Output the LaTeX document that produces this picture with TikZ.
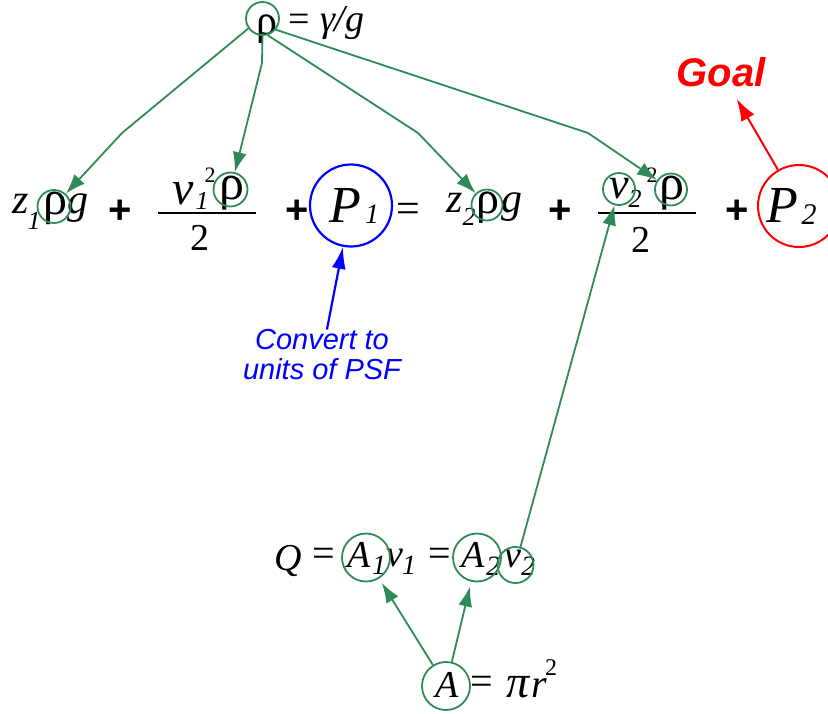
\documentclass[tikz,border=0pt]{standalone}
\usepackage{fontspec}
\setmainfont{Liberation Serif}
\newfontfamily\arf{Liberation Sans}
\usetikzlibrary{arrows.meta}
\definecolor{gr}{RGB}{46,139,87}
\newcommand\myfs[1]{\fontsize{#1}{#1}\selectfont}
\begin{document}
\begin{tikzpicture}[x=1pt,y=-1pt,
  tx/.style={inner sep=0pt,outer sep=0pt,anchor=base,font=\itshape\myfs{#1}},
  up/.style={inner sep=0pt,outer sep=0pt,anchor=base,font=\upshape\myfs{#1}},
  pl/.style={inner sep=0pt,outer sep=0pt,anchor=center,font=\arf\bfseries\myfs{40}},
  gc/.style={circle,draw=gr,line width=1.8pt,inner sep=0pt,minimum size=#1},
  bc/.style={circle,draw=blue,line width=2.2pt,inner sep=0pt,minimum size=82pt},
  rc/.style={circle,draw=red,line width=2pt,inner sep=0pt,minimum size=82pt},
  ga/.style={draw=gr,line width=1.8pt,-{Latex[length=20pt,width=14pt]}},
  ba/.style={draw=blue,line width=2.2pt,-{Latex[length=22pt,width=14pt]}},
  ra/.style={draw=red,line width=2pt,-{Latex[length=22pt,width=15pt]}},
  bar/.style={line width=2pt}]
\useasboundingbox (0,0) rectangle (828,713);
% top
\node[up=42] (rho0) at (267,34) {ρ};
\node[up=38] (eq0) at (299,31) {=};
\node[tx=38,anchor=base west] (gam) at (320,31) {γ/g};
% row 1
\node[tx=42] (z1) at (21,213) {z};
\node[tx=26] (z1s) at (34,229) {1};
\node[up=48] (r1) at (55,214) {ρ};
\node[tx=42] (g1) at (78,213) {g};
\node[pl] (p1) at (120,212) {+};
\node[tx=48] (v1) at (183,204) {v};
\node[tx=26] (v1s) at (202,209) {1};
\node[up=22] (v1p) at (210,182) {2};
\node[up=50] (r2) at (232,199) {ρ};
\draw[bar] (158,213) -- (256,213);
\node[up=38] (d1) at (200,250) {2};
\node[pl] (p2) at (297,212) {+};
\node[tx=52] (P1) at (345,222) {P};
\node[tx=28] (P1s) at (372,223) {1};
\node[up=42] (eq1) at (408,222) {=};
\node[tx=42] (z2) at (455,212) {z};
\node[tx=26] (z2s) at (469,225) {2};
\node[up=46] (r3) at (488,213) {ρ};
\node[tx=42] (g2) at (512,212) {g};
\node[pl] (p3) at (560,212) {+};
\node[tx=44] (v2) at (619,198) {v};
\node[tx=26] (v2s) at (635,207) {2};
\node[up=22] (v2p) at (652,182) {2};
\node[up=50] (r4) at (672,199) {ρ};
\draw[bar] (598,213) -- (696,213);
\node[up=38] (d2) at (641,252) {2};
\node[pl] (p4) at (737,212) {+};
\node[tx=52] (P2) at (782,222) {P};
\node[tx=30] (P2s) at (809,224) {2};
% bottom row
\node[tx=38] (Q) at (288,570) {Q};
\node[up=40] (eq2) at (324,566) {=};
\node[tx=38] (A1) at (359,567) {A};
\node[tx=28] (A1s) at (379,574) {1};
\node[tx=38] (v3) at (395,566) {v};
\node[tx=28] (v3s) at (409,574) {1};
\node[up=40] (eq3) at (440,566) {=};
\node[tx=38] (A2) at (473,567) {A};
\node[tx=28] (A2s) at (493,575) {2};
\node[tx=38] (v4) at (513,567) {v};
\node[tx=28] (v4s) at (528,575) {2};
% A = pi r^2
\node[tx=38] (A3) at (447,697) {A};
\node[up=40] (eq4) at (482,694) {=};
\node[tx=46] (pi) at (518,697) {π};
\node[tx=40] (rr) at (539,697) {r};
\node[up=24] (rsq) at (551,675) {2};
% circles
\node[gc=33pt] (cT) at (262.5,18.5) {};
\node[gc=33pt] (cA) at (54,206.5) {};
\node[gc=34pt] (cB) at (230.5,189.5) {};
\node[gc=31pt] (cC) at (487,205) {};
\node[gc=32pt] (cD) at (619,189) {};
\node[gc=32pt] (cE) at (671,189.5) {};
\node[bc] (cP1) at (351,205.5) {};
\node[rc] (cP2) at (799,206) {};
\node[gc=48pt] (cA1) at (366,557.5) {};
\node[gc=48pt] (cA2) at (477,557.5) {};
\node[gc=36pt] (cV) at (515.5,565) {};
\node[gc=48pt] (cA3) at (446,686) {};
% labels
\node[inner sep=0pt,text=red,font=\arf\bfseries\itshape\myfs{40}] (goal) at (721,72) {Goal};
\node[inner sep=0pt,text=blue,align=center,font=\arf\itshape\fontsize{29}{30}\selectfont] (conv) at (322,355) {Convert to\\units of PSF};
% bends
\coordinate (b1) at (122,133);
\coordinate (b2) at (262,63);
\coordinate (b3) at (418,133);
\coordinate (b4) at (588,133);
% connectors
\draw[ga] (cT.-145) -- (b1) -- (cA);
\draw[ga] (cT.-90) -- (b2) -- (cB);
\draw[ga] (cT.-73) -- (b3) -- (cC);
\draw[ga] (cT.-40) -- (b4) -- (cE);
\draw[ga] (cV) -- (cD);
\draw[ga,shorten >=5pt] (cA3) -- (cA1);
\draw[ga,shorten >=5pt] (cA3) -- (cA2);
\draw[ra,shorten >=14pt] (cP2) -- (goal);
\draw[ba] (conv) -- (cP1);
\end{tikzpicture}
\end{document}
